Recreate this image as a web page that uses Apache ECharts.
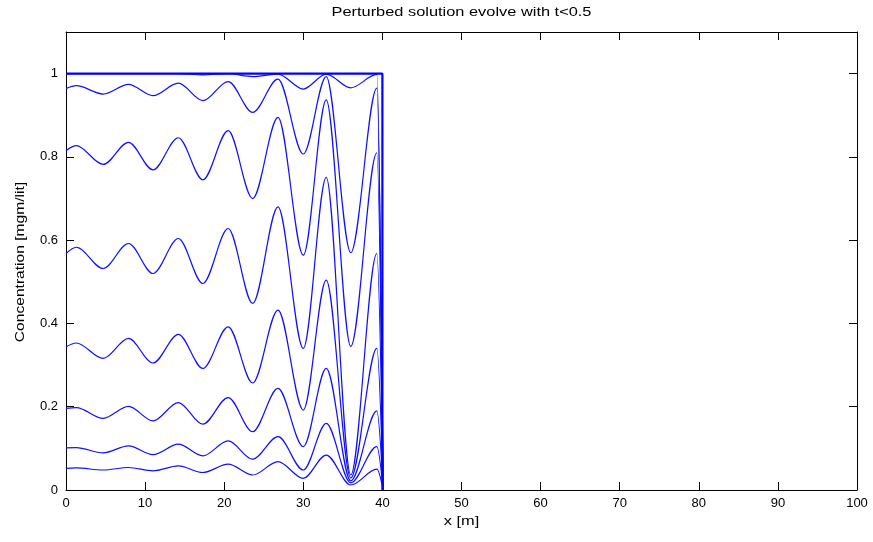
<!DOCTYPE html>
<html><head><meta charset="utf-8">
<script src="https://cdn.jsdelivr.net/npm/echarts@6/dist/echarts.min.js"></script>
<style>html,body{margin:0;padding:0;background:#fff}#c{width:873px;height:542px}</style>
</head><body><div id="c"></div><script>
// x positions of the read-off points (start, peaks/troughs, end of drop)
const xKnots = [0, 1.3, 4.7, 7.9, 11.0, 14.2, 17.3, 20.5, 23.6, 26.8, 30.0, 32.9, 36.0, 39.3, 40.1];
// curve values at those points
const curveA = [1.000, 1.000, 1.000, 1.000, 1.000, 1.000, 0.997, 1.000, 0.993, 0.999, 0.963, 0.999, 0.966, 0.998, 0];
const curveB = [0.964, 0.971, 0.951, 0.974, 0.947, 0.977, 0.935, 0.981, 0.907, 0.987, 0.807, 0.993, 0.570, 0.965, 0];
const curveC = [0.815, 0.827, 0.782, 0.835, 0.769, 0.846, 0.745, 0.863, 0.700, 0.895, 0.564, 0.937, 0.345, 0.810, 0];
const curveD = [0.568, 0.583, 0.532, 0.592, 0.520, 0.604, 0.496, 0.628, 0.448, 0.680, 0.340, 0.751, 0.036, 0.568, 0];
const curveE = [0.344, 0.353, 0.316, 0.364, 0.305, 0.374, 0.292, 0.392, 0.257, 0.432, 0.192, 0.504, 0.029, 0.340, 0];
const curveF = [0.196, 0.198, 0.172, 0.201, 0.166, 0.210, 0.158, 0.222, 0.140, 0.244, 0.104, 0.292, 0.022, 0.190, 0];
const curveG = [0.101, 0.102, 0.089, 0.106, 0.085, 0.110, 0.082, 0.118, 0.074, 0.128, 0.048, 0.160, 0.017, 0.104, 0];
const curveH = [0.052, 0.053, 0.048, 0.054, 0.046, 0.058, 0.042, 0.062, 0.036, 0.068, 0.028, 0.084, 0.012, 0.050, 0];
// initial step profile
const stepX = [0, 40, 40];
const stepY = [1, 1, 0];

const curves = [curveA, curveB, curveC, curveD, curveE, curveF, curveG, curveH];
const FONT = 'Liberation Sans, Arial, sans-serif';
const chart = echarts.init(document.getElementById('c'));

const axisCommon = {
  type: 'value',
  axisLine: { show: true, onZero: false, lineStyle: { color: '#000', width: 1 } },
  axisTick: { show: true, inside: true, length: 8, lineStyle: { color: '#000', width: 1 } },
  splitLine: { show: false }
};

const series = curves.map(vals => ({
  type: 'line',
  data: xKnots.map((x, i) => [x, vals[i]]),
  smooth: 0.33,
  smoothMonotone: 'x',
  showSymbol: false,
  silent: true,
  lineStyle: { color: '#1010ff', width: 1.2 },
  z: 3
}));
series.push({
  type: 'line',
  data: stepX.map((x, i) => [x, stepY[i]]),
  showSymbol: false,
  silent: true,
  lineStyle: { color: '#0000ff', width: 2.2 },
  z: 4
});

chart.setOption({
  animation: false,
  backgroundColor: '#fff',
  grid: { left: 66, right: 16, top: 32, bottom: 52, containLabel: false, outerBoundsMode: 'none' },
  xAxis: [
    Object.assign({}, axisCommon, { min: 0, max: 100, interval: 10, position: 'bottom',
      axisLabel: { color: '#000', fontSize: 13, fontFamily: FONT, margin: 7 } }),
    Object.assign({}, axisCommon, { min: 0, max: 100, interval: 10, position: 'top',
      axisLabel: { show: false } })
  ],
  yAxis: [
    Object.assign({}, axisCommon, { min: 0, max: 1.1, interval: 0.2, position: 'left',
      axisLabel: { color: '#000', fontSize: 13, fontFamily: FONT, margin: 8, showMaxLabel: false } }),
    Object.assign({}, axisCommon, { min: 0, max: 1.1, interval: 0.2, position: 'right',
      axisLabel: { show: false } })
  ],
  graphic: [
    { type: 'text', x: 461.5, y: 12, scaleX: 1.26, style: { text: 'Perturbed solution evolve with t<0.5', font: '13px ' + FONT, fill: '#000', textAlign: 'center', textVerticalAlign: 'middle' } },
    { type: 'text', x: 461.5, y: 521, scaleX: 1.26, style: { text: 'x [m]', font: '13px ' + FONT, fill: '#000', textAlign: 'center', textVerticalAlign: 'middle' } },
    { type: 'text', x: 20, y: 262, rotation: Math.PI / 2, scaleX: 1.2, style: { text: 'Concentration [mgm/lit]', font: '13px ' + FONT, fill: '#000', textAlign: 'center', textVerticalAlign: 'middle' } }
  ],
  series: series
});
</script></body></html>
